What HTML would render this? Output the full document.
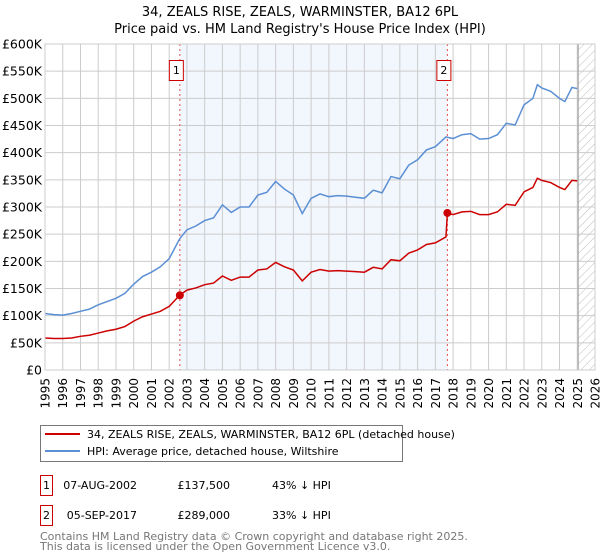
<!DOCTYPE html>
<html><head><meta charset="utf-8">
<style>
body{margin:0;background:#fff;}
svg{display:block;font-family:"DejaVu Sans","Liberation Sans",sans-serif;}
</style></head>
<body>
<svg id="chart" width="600" height="560" viewBox="0 0 600 560">
<text x="300" y="16" text-anchor="middle" font-size="13">34, ZEALS RISE, ZEALS, WARMINSTER, BA12 6PL</text>
<text x="300" y="33" text-anchor="middle" font-size="13">Price paid vs. HM Land Registry's House Price Index (HPI)</text>
<defs>
<pattern id="hatch" width="6" height="6" patternUnits="userSpaceOnUse" patternTransform="rotate(45)">
<line x1="0" y1="0" x2="0" y2="6" stroke="#bbb" stroke-width="1"/>
</pattern>
</defs>
<g id="plot"></g>
<g>
<rect x="40.5" y="425.5" width="362" height="36" fill="#fff" stroke="#777"/>
<line x1="45" y1="434" x2="80" y2="434" stroke="#cc0000" stroke-width="2"/>
<text x="87" y="438" font-size="11">34, ZEALS RISE, ZEALS, WARMINSTER, BA12 6PL (detached house)</text>
<line x1="45" y1="451" x2="80" y2="451" stroke="#5b8fd4" stroke-width="2"/>
<text x="87" y="455" font-size="11">HPI: Average price, detached house, Wiltshire</text>
</g>
<g font-size="11">
<rect x="40.5" y="475.5" width="12" height="20" fill="#fff" stroke="#cc0000"/>
<text x="46.5" y="489" text-anchor="middle">1</text>
<text x="137" y="489" text-anchor="end">07-AUG-2002</text>
<text x="230" y="489" text-anchor="end">£137,500</text>
<text x="272" y="489">43% ↓ HPI</text>
<rect x="40.5" y="505.5" width="12" height="20" fill="#fff" stroke="#cc0000"/>
<text x="46.5" y="519" text-anchor="middle">2</text>
<text x="137" y="519" text-anchor="end">05-SEP-2017</text>
<text x="230" y="519" text-anchor="end">£289,000</text>
<text x="272" y="519">33% ↓ HPI</text>
</g>
<g font-size="11" fill="#777">
<text x="40" y="540" fill="#777">Contains HM Land Registry data © Crown copyright and database right 2025.</text>
<text x="40" y="550" fill="#777">This data is licensed under the Open Government Licence v3.0.</text>
</g>
</svg>
<script>
const yTicks=[0,50,100,150,200,250,300,350,400,450,500,550,600];
const yTickLabels=["£0","£50K","£100K","£150K","£200K","£250K","£300K","£350K","£400K","£450K","£500K","£550K","£600K"];
const xTicks=[1995,1996,1997,1998,1999,2000,2001,2002,2003,2004,2005,2006,2007,2008,2009,2010,2011,2012,2013,2014,2015,2016,2017,2018,2019,2020,2021,2022,2023,2024,2025,2026];
const hpiYears=[1995.0,1995.5,1996.0,1996.5,1997.0,1997.5,1998.0,1998.5,1999.0,1999.5,2000.0,2000.5,2001.0,2001.5,2002.0,2002.6,2003.0,2003.5,2004.0,2004.5,2005.0,2005.5,2006.0,2006.5,2007.0,2007.5,2008.0,2008.5,2009.0,2009.5,2010.0,2010.5,2011.0,2011.5,2012.0,2012.5,2013.0,2013.5,2014.0,2014.5,2015.0,2015.5,2016.0,2016.5,2017.0,2017.6,2018.0,2018.5,2019.0,2019.5,2020.0,2020.5,2021.0,2021.5,2022.0,2022.5,2022.75,2023.0,2023.5,2024.0,2024.3,2024.7,2025.0];
const hpiValues=[104,102,101,104,108,112,120,126,132,141,158,172,180,190,205,242,258,265,275,280,304,290,300,300,322,327,347,333,322,288,316,324,319,321,320,318,316,331,326,356,352,377,387,405,411,429,426,433,435,425,426,433,454,451,488,500,525,519,513,500,494,520,518];
const propYears=[1995.0,1995.5,1996.0,1996.5,1997.0,1997.5,1998.0,1998.5,1999.0,1999.5,2000.0,2000.5,2001.0,2001.5,2002.0,2002.6,2003.0,2003.5,2004.0,2004.5,2005.0,2005.5,2006.0,2006.5,2007.0,2007.5,2008.0,2008.5,2009.0,2009.5,2010.0,2010.5,2011.0,2011.5,2012.0,2012.5,2013.0,2013.5,2014.0,2014.5,2015.0,2015.5,2016.0,2016.5,2017.0,2017.6,2017.68,2018.0,2018.5,2019.0,2019.5,2020.0,2020.5,2021.0,2021.5,2022.0,2022.5,2022.75,2023.0,2023.5,2024.0,2024.3,2024.7,2025.0];
const propValues=[59,58,58,59,62,64,68,72,75,80,90,98,103,108,117,138,147,151,157,160,173,165,171,171,184,186,198,190,184,164,180,185,182,183,182,181,180,189,186,203,201,215,221,231,234,245,289,286,291,292,286,286,291,305,303,328,336,353,349,345,336,332,349,348];
const saleYears=[2002.6,2017.68];
const salePrices=[137.5,289];
const saleLabels=["1","2"];
const dataEndYear=2025.05;

const NS="http://www.w3.org/2000/svg";
const L=45,R=595,T=44,B=370;
const x=v=>L+(v-1995)/(2026-1995)*(R-L);
const y=v=>B-v/600*(B-T);
const g=document.getElementById('plot');
function mk(tag,attrs,parent){const e=document.createElementNS(NS,tag);for(const k in attrs)e.setAttribute(k,attrs[k]);(parent||g).appendChild(e);return e;}

let shade=mk('rect',{x:x(saleYears[0]),y:T,width:x(saleYears[1])-x(saleYears[0]),height:B-T,fill:'#f2f6fd'});


let hatch=mk('rect',{x:x(dataEndYear),y:T,width:R-x(dataEndYear),height:B-T,fill:'url(#hatch)'});



xTicks.forEach(t=>{
  let l=mk('line',{x1:x(t),x2:x(t),y1:T,y2:B,stroke:'#cccccc','stroke-width':1});
  
  
  let tx=mk('text',{x:0,y:0,'font-size':12,'text-anchor':'end',transform:`translate(${x(t)+4.5},${B+8}) rotate(-90)`});
  tx.textContent=t;
  
  
});
yTicks.forEach((t,i)=>{
  let l=mk('line',{x1:L,x2:R,y1:y(t),y2:y(t),stroke:'#cccccc','stroke-width':1});
  
  
  let tx=mk('text',{x:L-3,y:y(t)+4.5,'font-size':12.5,'text-anchor':'end'});
  tx.textContent=yTickLabels[i];
  
  
});
let endLine=mk('line',{x1:x(dataEndYear),x2:x(dataEndYear),y1:T,y2:B,stroke:'#999','stroke-width':1});



saleYears.forEach((s,i)=>{
  let l=mk('line',{x1:x(s),x2:x(s),y1:T,y2:B,stroke:'#e05050','stroke-width':1,'stroke-dasharray':'2,3'});
  
  
  let r=mk('rect',{x:x(s)-10.5,y:T+16.5,width:14,height:20,fill:'#fff',stroke:'#cc0000'});
  
  
  let tx=mk('text',{x:x(s)-3.5,y:T+30,'font-size':11,'text-anchor':'middle'});
  tx.textContent=saleLabels[i];
  
  
});

let hp=mk('polyline',{points:hpiYears.map((v,i)=>x(v)+','+y(hpiValues[i])).join(' '),fill:'none',stroke:'#5b8fd4','stroke-width':1.5});


let pp=mk('polyline',{points:propYears.map((v,i)=>x(v)+','+y(propValues[i])).join(' '),fill:'none',stroke:'#cc0000','stroke-width':1.5});


saleYears.forEach((s,i)=>{
  let c=mk('circle',{cx:x(s),cy:y(salePrices[i]),r:4,fill:'#cc0000'});
  
  
});
let border=mk('rect',{x:L,y:T,width:R-L,height:B-T,fill:'none',stroke:'#cccccc'});


</script>
</body></html>
